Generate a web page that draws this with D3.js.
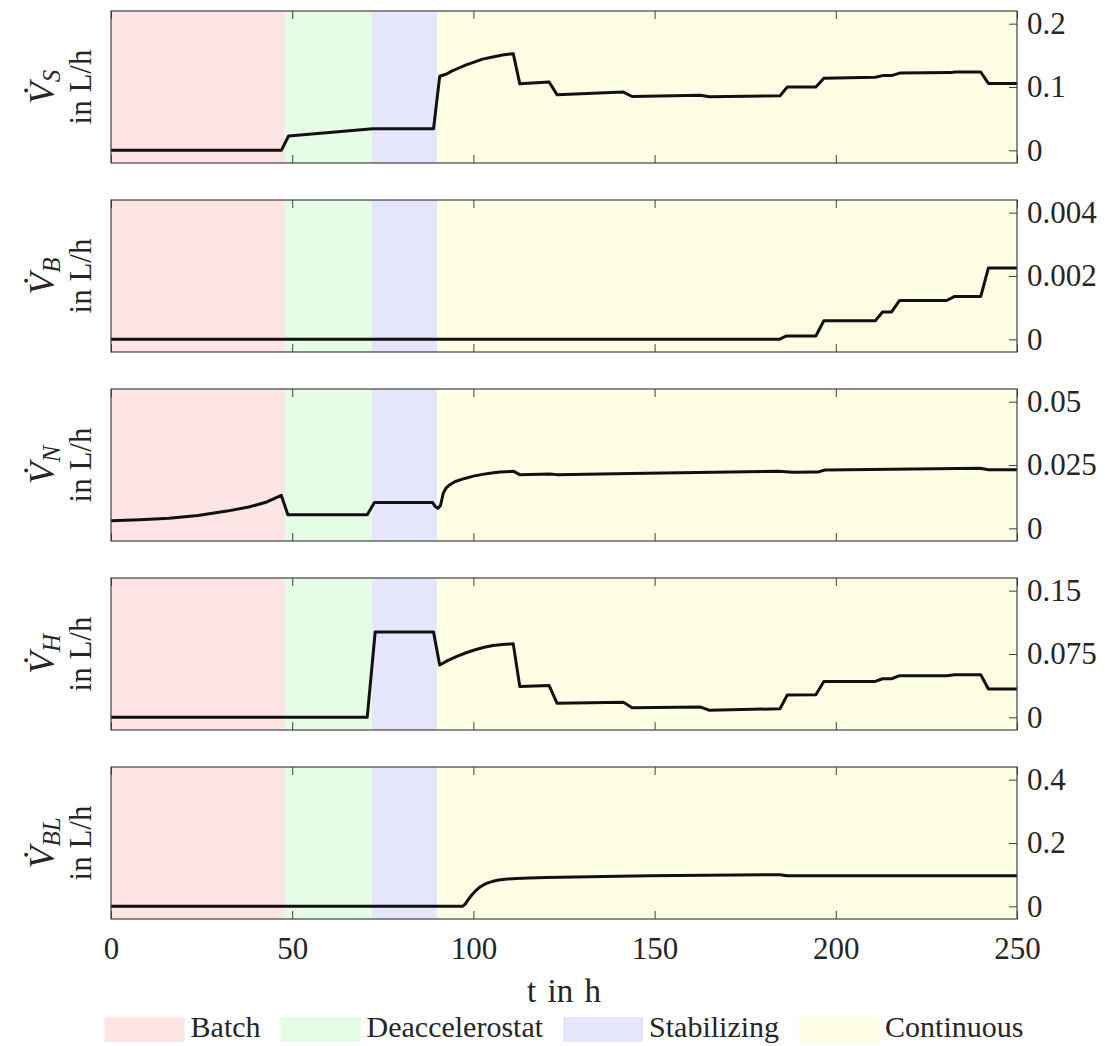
<!DOCTYPE html>
<html>
<head>
<meta charset="utf-8">
<script src="https://cdn.jsdelivr.net/npm/d3@7"></script>
<style>
  html, body { margin: 0; padding: 0; background: #fff; }
  svg { display: block; }
  svg text { font-family: "Liberation Serif", "Times New Roman", Tinos, Times, "DejaVu Serif", serif; fill: #262626; }
</style>
</head>
<body>
<svg id="chart" width="1105" height="1046"></svg>
<script>
// Process phases (hours) and their shading
const phaseNames  = ["Batch", "Deaccelerostat", "Stabilizing", "Continuous"];
const phaseStart  = [0, 48, 72, 90];
const phaseEnd    = [48, 72, 90, 250];
const phaseColors = ["#fde5e5", "#e5fde5", "#e5e5fc", "#fefee5"];

const xTicks = [0, 50, 100, 150, 200, 250];

// Substrate feed V_S (L/h)
const tS = [0, 47, 49, 72.2, 89, 90.7, 92.6, 94, 96, 98, 100, 102.5, 105, 108, 111, 112.8, 120.9, 123.1,
            141.4, 143.8, 162.7, 165, 184.6, 186.6, 194.5, 196.7, 210.9, 212.9, 215.4,
            217.6, 231.8, 232.8, 240, 242.1, 250];
const vS = [0, 0, 0.0227, 0.034, 0.034, 0.117, 0.1206, 0.125, 0.130, 0.135, 0.139, 0.144, 0.147, 0.1505, 0.1526,
            0.105, 0.108, 0.0876,
            0.092, 0.085, 0.087, 0.0845, 0.086, 0.100, 0.100, 0.114, 0.1155, 0.118, 0.118,
            0.122, 0.1227, 0.1237, 0.1237, 0.1057, 0.1057];

// Base feed V_B (L/h)
const tB = [0, 184.4, 186.4, 194.5, 196.7, 210.9, 212.9, 215.4, 217.6, 230.6, 232.8, 240, 242.1, 250];
const vB = [0, 0, 0.000107, 0.000107, 0.000587, 0.000587, 0.000864, 0.000864, 0.001227, 0.001227,
            0.001355, 0.001355, 0.00225, 0.00225];

// Nitrogen feed V_N (L/h)
const tN = [0, 8, 16, 24, 32, 38, 43, 47, 48.8, 70.7, 72.7, 88.7, 89.5, 90.2, 90.9, 91.7, 92.5, 93.4, 95,
            97.6, 100, 102.5, 105, 107.4, 111.1, 112.8, 121.2, 123, 143.3, 184.1, 188.1, 195, 197, 239.8, 242.1, 250];
const vN = [0.0030, 0.0034, 0.0040, 0.0051, 0.0068, 0.0084, 0.0104, 0.0130, 0.0054, 0.0054, 0.0102, 0.0102,
            0.0086, 0.0079, 0.0089, 0.0139, 0.0160, 0.0171, 0.0185, 0.0197, 0.0206, 0.0213, 0.0218, 0.0222,
            0.0225, 0.0212, 0.0214, 0.0212,
            0.0216, 0.0225, 0.0221, 0.0222, 0.0230, 0.0237, 0.0231, 0.0231];

// Harvest V_H (L/h)
const tH = [0, 70.7, 72.9, 89, 90.7, 93, 95.6, 98, 100.5, 103, 105.4, 108, 111, 112.8, 120.9, 123.1, 141.4, 143.8,
            162.7, 165, 184.6, 186.6, 194.5, 196.7, 210.9, 212.9, 215.4, 217.6, 230.6, 232.8, 240, 242.1, 250];
const vH = [0, 0, 0.1011, 0.1011, 0.0619, 0.0675, 0.0725, 0.0765, 0.080, 0.083, 0.085, 0.0862, 0.087,
            0.0364, 0.0376, 0.0166, 0.0178, 0.0113,
            0.0121, 0.0085, 0.0101, 0.0263, 0.0267, 0.0425, 0.0425, 0.0457, 0.0457, 0.0493, 0.0493,
            0.0505, 0.0505, 0.0336, 0.0336];

// Bleed V_BL (L/h)
const tBL = [0, 97, 97.8, 98.5, 99.5, 100.5, 101.7, 103, 104.2, 105.4, 107, 109.4, 112, 115.3, 120, 124,
             148.3, 184.6, 186.6, 250];
const vBL = [0, 0, 0.008, 0.020, 0.035, 0.048, 0.060, 0.069, 0.075, 0.079, 0.083, 0.086, 0.088, 0.0895,
             0.091, 0.092, 0.0966, 0.100, 0.0966, 0.0966];

// Y tick values per panel
const ticksS  = [0, 0.1, 0.2];
const ticksB  = [0, 0.002, 0.004];
const ticksN  = [0, 0.025, 0.05];
const ticksH  = [0, 0.075, 0.15];
const ticksBL = [0, 0.2, 0.4];

const panels = [
  { sub: "S",  t: tS,  v: vS,  ticks: ticksS },
  { sub: "B",  t: tB,  v: vB,  ticks: ticksB },
  { sub: "N",  t: tN,  v: vN,  ticks: ticksN },
  { sub: "H",  t: tH,  v: vH,  ticks: ticksH },
  { sub: "BL", t: tBL, v: vBL, ticks: ticksBL }
];

const serif = '"Liberation Serif", "Times New Roman", Tinos, Times, "DejaVu Serif", serif';
const svg = d3.select("#chart");
const left = 111, right = 1017;
const top0 = 11, step = 189, ph = 152;
const fs = 31;

const x = d3.scaleLinear().domain([0, 250]).range([left, right]);

function styleLabels(a) {
  a.attr("font-family", null).attr("font-size", null);
  a.selectAll("text")
    .style("font-size", fs + "px")
    .style("font-family", serif)
    .attr("fill", "#262626");
}

panels.forEach((p, i) => {
  const top = top0 + i * step, bottom = top + ph;
  const R = d3.max(p.ticks);
  const y = d3.scaleLinear().domain([-0.1 * R, 1.1 * R]).range([bottom, top]);
  const g = svg.append("g");

  // phase shading
  g.selectAll("rect.phase").data(phaseStart).join("rect")
    .attr("class", "phase")
    .attr("x", (d) => x(d))
    .attr("width", (d, k) => x(phaseEnd[k]) - x(d))
    .attr("y", top).attr("height", ph)
    .attr("fill", (d, k) => phaseColors[k]);

  // series line
  const pts = p.t.map((t, k) => [t, p.v[k]]);
  g.append("path")
    .datum(pts)
    .attr("fill", "none")
    .attr("stroke", "#111")
    .attr("stroke-width", 3)
    .attr("stroke-linejoin", "round")
    .attr("d", d3.line().x((d) => x(d[0])).y((d) => y(d[1])));

  // inward x ticks, top and bottom
  g.append("g").attr("transform", `translate(0,${top})`)
    .call(d3.axisBottom(x).tickValues(xTicks).tickSize(8).tickFormat(""))
    .call((a) => a.select(".domain").remove());
  g.append("g").attr("transform", `translate(0,${bottom})`)
    .call(d3.axisTop(x).tickValues(xTicks).tickSize(8).tickFormat(""))
    .call((a) => a.select(".domain").remove());

  // inward y ticks on the right edge
  g.append("g").attr("transform", `translate(${right},0)`)
    .call(d3.axisLeft(y).tickValues(p.ticks).tickSize(8).tickFormat(""))
    .call((a) => a.select(".domain").remove());
  // y tick labels, outside right
  g.append("g").attr("transform", `translate(${right},0)`)
    .call(d3.axisRight(y).tickValues(p.ticks).tickSize(0).tickPadding(10).tickFormat((d) => String(d)))
    .call((a) => a.select(".domain").remove())
    .call(styleLabels);

  g.selectAll(".tick line").attr("stroke", "#404040").attr("stroke-width", 1);

  // frame
  g.append("rect")
    .attr("x", left).attr("y", top).attr("width", right - left).attr("height", ph)
    .attr("fill", "none").attr("stroke", "#404040").attr("stroke-width", 1.2);

  // y label: rotated two-line label
  const cy = (top + bottom) / 2;
  const lab = g.append("text")
    .attr("transform", `translate(54,${cy}) rotate(-90)`)
    .attr("text-anchor", "middle")
    .style("font-family", serif)
    .style("font-size", "36px");
  lab.append("tspan").style("font-style", "italic").text("V\u0307");
  lab.append("tspan").style("font-style", "italic").style("font-size", "25px")
    .attr("dy", 6).text(p.sub);

  g.append("text")
    .attr("transform", `translate(91,${cy}) rotate(-90)`)
    .attr("text-anchor", "middle")
    .style("font-family", serif)
    .style("font-size", "31px")
    .text("in L/h");

  // x tick labels on last panel only
  if (i === panels.length - 1) {
    g.append("g").attr("transform", `translate(0,${bottom})`)
      .call(d3.axisBottom(x).tickValues(xTicks).tickSize(0).tickPadding(18))
      .call((a) => a.select(".domain").remove())
      .call(styleLabels);
    svg.append("text")
      .attr("x", (left + right) / 2).attr("y", 1002)
      .attr("text-anchor", "middle")
      .style("font-family", serif)
      .style("font-size", "33px")
      .style("word-spacing", "3px")
      .text("t in h");
  }
});

// legend, centred under the plots
const leg = svg.append("g");
const sw = 80, sh = 25, gapText = 6, gapEntry = 20, legY = 1017;
let cursor = 0;
phaseNames.forEach((name, k) => {
  const it = leg.append("g");
  it.append("rect").attr("x", 0).attr("y", legY).attr("width", sw).attr("height", sh)
    .attr("fill", phaseColors[k]);
  const tx = it.append("text").attr("x", sw + gapText).attr("y", legY + 20)
    .style("font-family", serif)
    .style("font-size", "30px").text(name);
  const w = sw + gapText + tx.node().getComputedTextLength();
  it.attr("transform", `translate(${cursor},0)`);
  cursor += w + gapEntry;
});
const total = cursor - gapEntry;
leg.attr("transform", `translate(${564 - total / 2},0)`);
</script>
</body>
</html>
